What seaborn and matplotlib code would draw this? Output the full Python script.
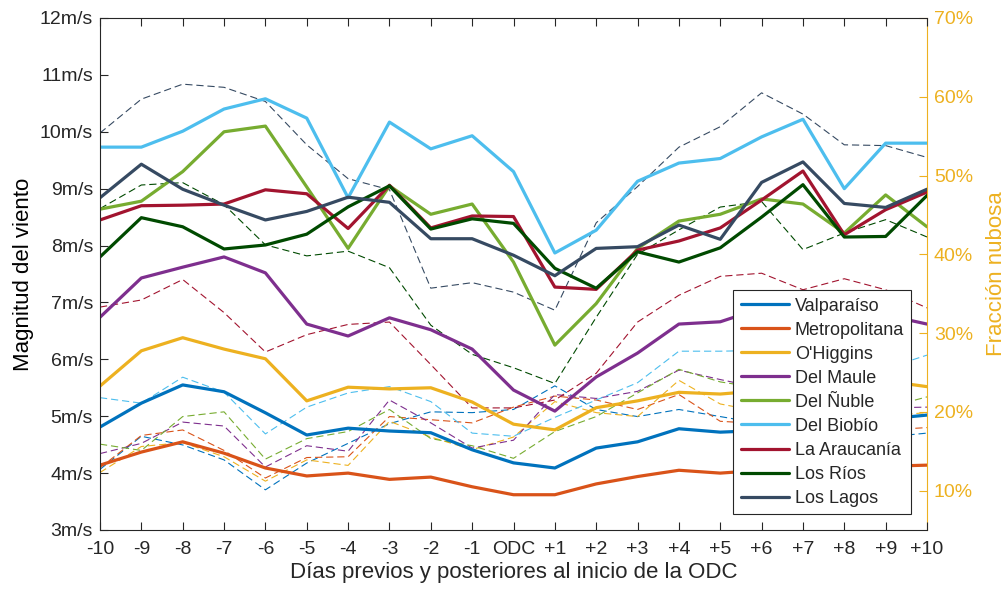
import numpy as np
import pandas as pd
import matplotlib
matplotlib.use("Agg")
import matplotlib.pyplot as plt
import seaborn as sns
from matplotlib.ticker import FuncFormatter, FixedLocator

sns.set_theme(style="white")
plt.rcParams['font.family'] = ['Liberation Sans', 'DejaVu Sans']

# ---------------- data ----------------
days = list(range(-10, 11))
day_labels = ["-10", "-9", "-8", "-7", "-6", "-5", "-4", "-3", "-2", "-1", "ODC",
              "+1", "+2", "+3", "+4", "+5", "+6", "+7", "+8", "+9", "+10"]

regions = ["Valparaíso", "Metropolitana", "O'Higgins", "Del Maule", "Del Ñuble",
           "Del Biobío", "La Araucanía", "Los Ríos", "Los Lagos"]
colors = ["#0072BD", "#D95319", "#EDB120", "#7E2F8E", "#77AC30",
          "#4DBEEE", "#A2142F", "#004A00", "#364A62"]

# wind speed magnitude (m/s), left axis
wind_valparaiso = [4.81, 5.23, 5.55, 5.43, 5.06, 4.67, 4.79, 4.74, 4.71, 4.41, 4.18, 4.09, 4.44, 4.55, 4.78, 4.72, 4.75, 4.80, 4.85, 4.95, 5.02]
wind_metropolitana = [4.14, 4.37, 4.55, 4.35, 4.09, 3.95, 4.00, 3.89, 3.93, 3.76, 3.62, 3.62, 3.81, 3.94, 4.05, 4.00, 4.05, 4.05, 4.10, 4.12, 4.14]
wind_ohiggins = [5.53, 6.15, 6.38, 6.18, 6.01, 5.27, 5.51, 5.48, 5.50, 5.25, 4.86, 4.76, 5.15, 5.27, 5.42, 5.39, 5.45, 5.50, 5.55, 5.62, 5.52]
wind_maule = [6.74, 7.43, 7.62, 7.80, 7.52, 6.62, 6.41, 6.73, 6.52, 6.18, 5.46, 5.09, 5.69, 6.11, 6.62, 6.66, 6.90, 7.00, 6.90, 6.78, 6.62]
wind_nuble = [8.64, 8.78, 9.30, 10.00, 10.10, 9.03, 7.95, 9.05, 8.55, 8.73, 7.71, 6.25, 6.98, 7.95, 8.43, 8.55, 8.82, 8.73, 8.22, 8.89, 8.33]
wind_biobio = [9.73, 9.73, 10.01, 10.40, 10.58, 10.24, 8.84, 10.17, 9.70, 9.93, 9.30, 7.87, 8.27, 9.13, 9.45, 9.53, 9.91, 10.22, 9.00, 9.80, 9.80]
wind_araucania = [8.45, 8.70, 8.71, 8.73, 8.98, 8.91, 8.30, 9.06, 8.31, 8.52, 8.51, 7.27, 7.23, 7.92, 8.08, 8.31, 8.80, 9.31, 8.19, 8.63, 8.94]
wind_rios = [7.80, 8.49, 8.33, 7.94, 8.01, 8.20, 8.68, 9.05, 8.29, 8.47, 8.39, 7.60, 7.25, 7.89, 7.71, 7.96, 8.50, 9.07, 8.15, 8.16, 8.88]
wind_lagos = [8.84, 9.43, 8.99, 8.71, 8.45, 8.60, 8.85, 8.76, 8.12, 8.12, 7.83, 7.47, 7.95, 7.98, 8.36, 8.11, 9.11, 9.47, 8.74, 8.67, 8.99]

# cloud fraction (%), right axis
cloud_valparaiso = [12.7, 16.9, 15.8, 13.9, 10.1, 13.5, 16.0, 18.5, 20.0, 19.9, 20.3, 23.3, 20.3, 19.4, 20.3, 19.4, 18.5, 18.0, 17.5, 16.8, 17.3]
cloud_metropolitana = [12.9, 17.0, 17.7, 15.1, 11.6, 14.2, 14.3, 19.4, 19.0, 18.6, 20.6, 22.0, 21.5, 20.3, 22.2, 18.8, 18.5, 18.5, 18.0, 17.7, 18.0]
cloud_ohiggins = [12.3, 15.6, 16.1, 14.3, 11.2, 13.9, 13.2, 18.8, 16.8, 15.2, 16.8, 21.3, 19.9, 19.4, 24.0, 21.0, 20.0, 19.5, 19.5, 19.5, 19.9]
cloud_maule = [14.7, 16.0, 18.7, 18.2, 13.0, 15.7, 15.0, 21.5, 18.6, 15.4, 16.4, 22.2, 21.7, 22.6, 25.3, 24.1, 23.0, 22.5, 21.5, 20.5, 20.6]
cloud_nuble = [15.9, 15.1, 19.4, 20.0, 14.0, 16.6, 17.5, 20.3, 16.6, 15.7, 14.1, 17.5, 19.4, 22.4, 25.4, 23.8, 23.0, 22.0, 21.0, 20.5, 21.9]
cloud_biobio = [21.8, 21.1, 24.4, 22.5, 17.2, 20.6, 22.4, 23.2, 21.3, 17.3, 16.9, 19.3, 21.5, 23.7, 27.7, 27.7, 27.8, 27.0, 26.2, 25.5, 27.2]
cloud_araucania = [33.3, 34.2, 36.8, 32.6, 27.6, 29.8, 31.1, 31.4, 26.0, 20.5, 20.5, 21.5, 24.9, 31.4, 34.8, 37.2, 37.6, 35.5, 36.9, 35.5, 33.2]
cloud_rios = [45.8, 48.8, 49.1, 46.3, 41.2, 39.8, 40.4, 38.3, 31.0, 27.3, 25.6, 23.6, 32.0, 40.0, 43.1, 46.0, 46.7, 40.6, 42.7, 44.4, 42.2]
cloud_lagos = [55.4, 59.7, 61.6, 61.2, 59.4, 53.9, 49.6, 48.2, 35.7, 36.4, 35.2, 32.9, 44.0, 48.6, 53.6, 56.2, 60.5, 57.8, 53.9, 53.8, 52.3]

wind_series = [wind_valparaiso, wind_metropolitana, wind_ohiggins, wind_maule, wind_nuble,
               wind_biobio, wind_araucania, wind_rios, wind_lagos]
cloud_series = [cloud_valparaiso, cloud_metropolitana, cloud_ohiggins, cloud_maule, cloud_nuble,
                cloud_biobio, cloud_araucania, cloud_rios, cloud_lagos]

wind_df = pd.DataFrame([(r, d, v) for r, s in zip(regions, wind_series) for d, v in zip(days, s)],
                       columns=["region", "day", "value"])
cloud_df = pd.DataFrame([(r, d, v) for r, s in zip(regions, cloud_series) for d, v in zip(days, s)],
                        columns=["region", "day", "value"])
palette = dict(zip(regions, colors))

# ---------------- figure ----------------
fig = plt.figure(figsize=(10.08, 5.94), dpi=100)
ax = fig.add_axes([100 / 1008, 1 - 530 / 594, 827 / 1008, 512 / 594])
ax2 = ax.twinx()

sns.lineplot(data=cloud_df, x="day", y="value", hue="region", hue_order=regions,
             palette=palette, ax=ax2, linewidth=0.8, legend=False, estimator=None)
for ln in ax2.get_lines():
    ln.set_dashes((6.5, 3.5))

sns.lineplot(data=wind_df, x="day", y="value", hue="region", hue_order=regions,
             palette=palette, ax=ax, linewidth=2.3, legend=True, estimator=None)

ax.set_zorder(ax2.get_zorder() + 1)
ax.patch.set_visible(False)

dark = "#262626"
yellow = "#EDB120"

ax.set_xlim(-10, 10)
ax.set_ylim(3, 12)
ax2.set_ylim(5, 70)

ax.xaxis.set_major_locator(FixedLocator(days))
ax.set_xticklabels(day_labels)
ax.yaxis.set_major_locator(FixedLocator(list(range(3, 13))))
ax.yaxis.set_major_formatter(FuncFormatter(lambda v, p: f"{int(v)}m/s"))
ax2.yaxis.set_major_locator(FixedLocator(list(range(10, 71, 10))))
ax2.yaxis.set_major_formatter(FuncFormatter(lambda v, p: f"{int(v)}%"))

ax.tick_params(axis="both", direction="in", length=6, width=0.8, colors=dark,
               labelsize=14, top=True, bottom=True, left=True, right=False)
ax.tick_params(axis="x", pad=8)
ax.tick_params(axis="y", pad=5)
ax2.tick_params(axis="y", direction="in", length=6, width=0.8, colors=yellow,
                labelsize=14, pad=5)

for side in ["left", "bottom", "top"]:
    ax.spines[side].set_color(dark)
    ax.spines[side].set_linewidth(0.8)
ax.spines["right"].set_visible(False)
for side in ["left", "bottom", "top"]:
    ax2.spines[side].set_visible(False)
ax2.spines["right"].set_color(yellow)
ax2.spines["right"].set_linewidth(0.8)

ax.set_xlabel("Días previos y posteriores al inicio de la ODC", fontsize=16, color=dark, labelpad=3)
ax.set_ylabel("Magnitud del viento", fontsize=16, color="black", labelpad=4)
ax2.set_ylabel("Fracción nubosa", fontsize=16, color=yellow, labelpad=9)

handles, labels = ax.get_legend_handles_labels()
if ax.get_legend() is not None:
    ax.get_legend().remove()
leg = ax.legend(handles, labels, loc="lower right", bbox_to_anchor=(0.981, 0.031),
                fontsize=13, frameon=True, fancybox=False, framealpha=1,
                edgecolor="#262626", handlelength=2.7, handletextpad=0.3,
                labelspacing=0.39, borderpad=0.4, borderaxespad=0)
leg.get_frame().set_linewidth(0.8)
for h in leg.get_lines():
    h.set_linewidth(2.3)

fig.savefig("out.png", dpi=100)
